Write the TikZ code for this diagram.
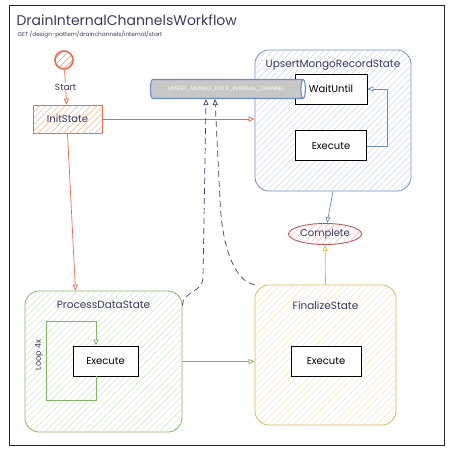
\documentclass[tikz,border=0pt]{standalone}
\usepackage{fontspec}
\setmainfont{Poppins}
\usetikzlibrary{positioning,shapes.geometric,arrows.meta,patterns.meta}

\definecolor{InkNavy}{HTML}{3A3A5C}
\definecolor{DashNavy}{HTML}{3B3B6D}
\definecolor{InitOrange}{HTML}{E8684A}
\definecolor{InitHatch}{HTML}{F4B183}
\definecolor{UpsBlue}{HTML}{6C8EBF}
\definecolor{PdsGreen}{HTML}{82B366}
\definecolor{FinYellow}{HTML}{D6B656}
\definecolor{DoneRed}{HTML}{B85450}
\definecolor{DoneHatch}{HTML}{F2B8B5}

\begin{document}
\begin{tikzpicture}[x = 1pt, y = -1pt,
                    node distance = 10pt,
                    >= {Triangle[open, length = 6pt, width = 5pt]}]
     \tikzset{HatchStyle/.style = {fill       = white,
                                   postaction = {pattern       = {Lines[angle = 45, distance = 4.5pt,
                                                                        line width = 0.45pt]},
                                                 pattern color = #1}}}
     \tikzset{StateStyle/.style = {draw            = #1,
                                   line width      = 0.8pt,
                                   rounded corners = 14pt,
                                   HatchStyle      = #1!35}}
     \tikzset{TitleStyle/.style = {text  = InkNavy,
                                   font  = \fontsize{10.5}{12}\selectfont}}
     \tikzset{BoxStyle/.style   = {draw,
                                   line width     = 0.9pt,
                                   fill           = white,
                                   minimum height = 30pt,
                                   font           = \fontsize{10}{12}\selectfont}}
     \tikzset{EdgeStyle/.style  = {->, line width = 0.7pt, draw = #1}}
     \useasboundingbox (0,0) rectangle (449,451);
     \draw[line width = 1pt, black!85] (9,5) rectangle (444,445);
     \node[anchor = west, text = InkNavy, font = \fontsize{14}{17}\selectfont]
          (title) at (13,20) {DrainInternalChannelsWorkflow};
     \node[anchor = west, text = InkNavy, font = \fontsize{5.8}{7}\selectfont]
          (route) at (14,35) {GET /design-pattern/drainchannels/internal/start};
     % states
     \node[circle, draw = InitOrange, line width = 1.6pt, minimum size = 18pt,
           HatchStyle = InitOrange!80]
          (start) at (64,60) {};
     \node[draw = InitOrange, line width = 0.8pt, minimum width = 69pt, minimum height = 28pt,
           HatchStyle = InitHatch, text = InkNavy, font = \fontsize{10}{12}\selectfont]
          (init) at (67.5,119) {InitState};
     \node[StateStyle = UpsBlue, minimum width = 156pt, minimum height = 141pt]
          (ups) at (333,120.5) {};
     \node[TitleStyle, below = 7pt of ups.north] (upsTitle) {UpsertMongoRecordState};
     \node[BoxStyle, minimum width = 72pt] (wait) at (331,89) {WaitUntil};
     \node[BoxStyle, minimum width = 71pt, below = 26pt of wait] (upsExec) {Execute};
     \node[StateStyle = PdsGreen, minimum width = 157pt, minimum height = 141pt]
          (pds) at (103.5,361.5) {};
     \node[TitleStyle, below = 7pt of pds.north] (pdsTitle) {ProcessDataState};
     \node[BoxStyle, minimum width = 65pt] (pdsExec) at (105.5,361) {Execute};
     \node[StateStyle = FinYellow, minimum width = 141pt, minimum height = 140pt]
          (fin) at (325.5,355) {};
     \node[TitleStyle, below = 13pt of fin.north] (finTitle) {FinalizeState};
     \node[BoxStyle, minimum width = 70pt] (finExec) at (326,361) {Execute};
     \node[ellipse, draw = DoneRed, line width = 0.9pt, minimum width = 61pt, minimum height = 21pt,
           HatchStyle = DoneHatch, text = InkNavy, font = \fontsize{10}{12}\selectfont, inner sep = 1pt]
          (complete) at (325,234) {Complete};
     \node[cylinder, shape border rotate = 0, aspect = 0.7, draw = UpsBlue, line width = 1.1pt,
           minimum height = 155pt, minimum width = 19pt, inner sep = 1pt,
           cylinder uses custom fill, cylinder body fill = black!22, cylinder end fill = white,
           text = white, font = \fontsize{5.3}{6}\selectfont]
          (chan) at (226,89) {UPSERT\_MONGO\_DATA\_INTERNAL\_CHANNEL};
     % edges
     \draw[EdgeStyle = InitOrange] (start) -- node[fill = white, text = InkNavy, inner sep = 1pt,
           font = \fontsize{9}{10}\selectfont] (startLbl) {Start} (init);
     \draw[EdgeStyle = InitOrange] (init.east) -- (init.east -| ups.west);
     \draw[EdgeStyle = InitOrange] (init.south) -- ([xshift = -28pt]pds.north);
     \draw[EdgeStyle = UpsBlue] (upsExec.east) -- ++(20,0) |- (wait.east);
     \draw[EdgeStyle = UpsBlue] (ups.south) -- (complete);
     \draw[EdgeStyle = FinYellow] (fin.north) -- (complete);
     \draw[EdgeStyle = PdsGreen] (pds.east) -- (pds.east -| fin.west);
     \draw[EdgeStyle = PdsGreen] ([xshift = -9.5pt]pdsExec.south) -- ++(0,24) -| (46,321)
           -| ([xshift = -9.5pt]pdsExec.north);
     \node[rotate = 90, text = InkNavy, font = \fontsize{8}{9}\selectfont]
          (loopLbl) at (39,355) {Loop 4x};
     \coordinate (bendA) at (203,278);
     \draw[EdgeStyle = DashNavy, dash pattern = on 6pt off 4pt]
          ([yshift = -15pt]pds.north east) .. controls +(0,-14) and +(0,14) .. (bendA)
          -- ([xshift = -20pt]chan.south);
     \draw[EdgeStyle = DashNavy, dash pattern = on 6pt off 4pt]
          (fin.north west) .. controls (236,282) and (222,250) .. (220,200)
          -- ([xshift = -11pt]chan.south);
  \end{tikzpicture}
\end{document}
